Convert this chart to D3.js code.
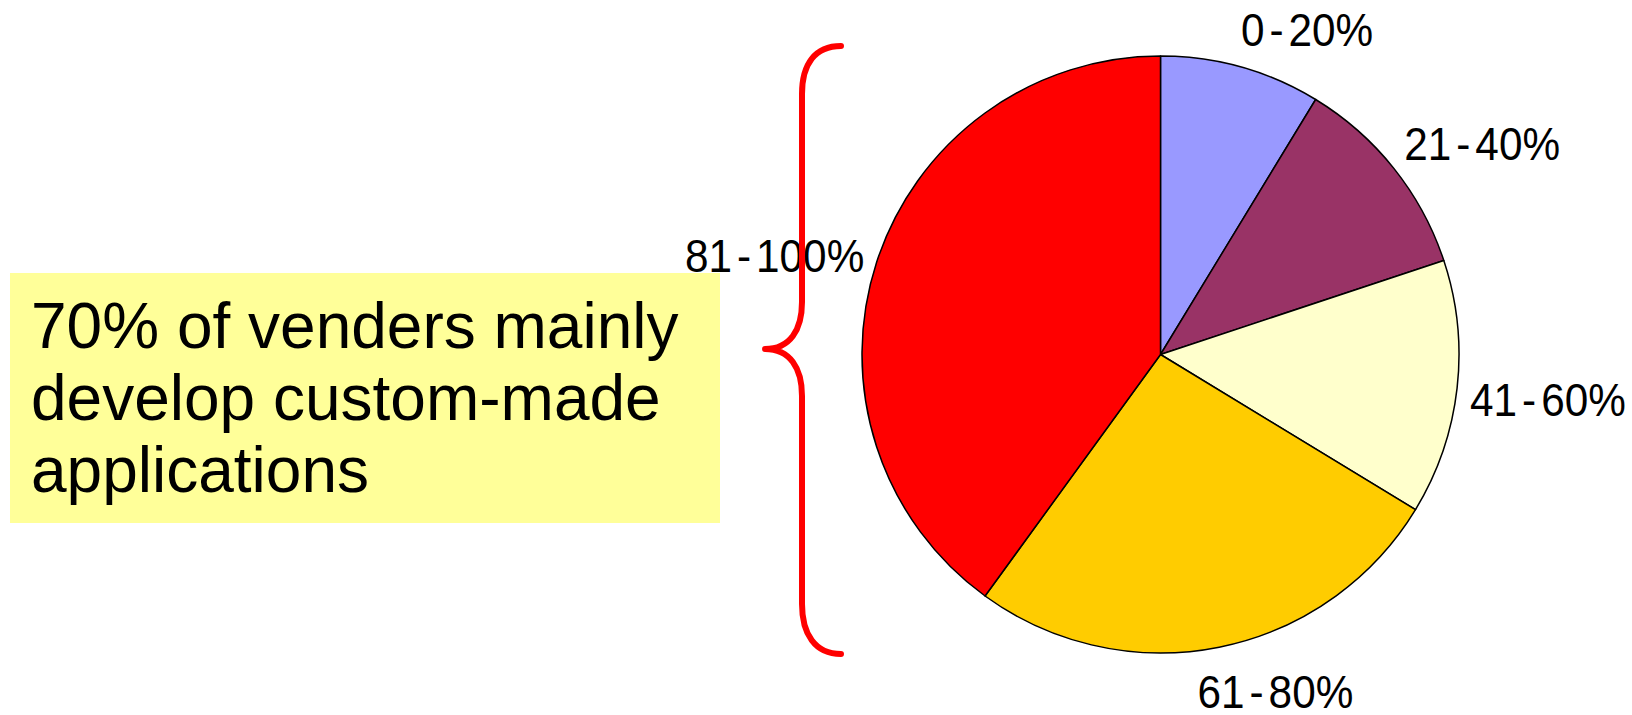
<!DOCTYPE html>
<html>
<head>
<meta charset="utf-8">
<script src="https://cdn.jsdelivr.net/npm/d3@7"></script>
<style>
  html, body { margin: 0; padding: 0; background: #ffffff; }
  svg { display: block; }
  text { font-family: "Liberation Sans", Arial, sans-serif; fill: #000; }
</style>
</head>
<body>
<svg id="chart" width="1632" height="715"></svg>
<script>
// ---- data ----
const categories = ["0-20%", "21-40%", "41-60%", "61-80%", "81-100%"];
const shares = [8.7, 11.2, 13.8, 26.3, 40.0];
const sliceColors = ["#9999FF", "#993366", "#FFFFCC", "#FFCC00", "#FF0000"];
const noteLines = ["70% of venders mainly", "develop custom-made", "applications"];
const labelNudgeY = [0, 8, 0, 6, 22];

// ---- layout ----
const W = 1632, H = 715;
const cx = 1160.5, cy = 354.5, R = 298.5;
const labelGap = 13, labelFont = 47, labelScaleX = 0.9, labelBoxH = 50, hyphenPad = 5;

const svg = d3.select("#chart");

// Note box
const note = svg.append("g");
note.append("rect")
  .attr("x", 10).attr("y", 273).attr("width", 710).attr("height", 250)
  .attr("fill", "#FFFF99");
note.selectAll("text").data(noteLines).join("text")
  .attr("x", 31)
  .attr("y", (d, i) => 348 + i * 72)
  .attr("font-size", 64)
  .text(d => d);

// Pie
const pie = d3.pie().sort(null).value(d => d.v);
const arcs = pie(categories.map((c, i) => ({ c, v: shares[i] })));
const arc = d3.arc().innerRadius(0).outerRadius(R);
const color = d3.scaleOrdinal().domain(categories).range(sliceColors);

const g = svg.append("g").attr("transform", `translate(${cx},${cy})`);
g.selectAll("path").data(arcs).join("path")
  .attr("d", arc)
  .attr("fill", d => color(d.data.c))
  .attr("stroke", "#000")
  .attr("stroke-width", 1.5)
  .attr("stroke-linejoin", "round");

// Labels (outside end: nearest box corner sits on the mid-angle ray)
const clamp = v => Math.max(-1, Math.min(1, v));
const labels = g.selectAll("text.lbl").data(arcs).join("text")
  .attr("class", "lbl")
  .attr("font-size", labelFont)
  .attr("text-anchor", "middle");
labels.each(function (d) {
  const parts = d.data.c.split("-");
  const t = d3.select(this);
  t.append("tspan").text(parts[0]);
  t.append("tspan").attr("dx", hyphenPad / labelScaleX).text("-");
  t.append("tspan").attr("dx", hyphenPad / labelScaleX).text(parts[1]);
});
labels.each(function (d, i) {
  const w = this.getComputedTextLength() * labelScaleX + 2 * hyphenPad;
  const a = (d.startAngle + d.endAngle) / 2;
  const s = Math.sin(a), c = -Math.cos(a);
  const px = (R + labelGap) * s, py = (R + labelGap) * c;
  const mx = px + clamp(s * 3.5) * w / 2;
  const my = py + clamp(c * 3.5) * labelBoxH / 2 + labelNudgeY[i];
  d3.select(this).attr("transform",
    `translate(${mx},${my + 0.716 * labelFont / 2}) scale(${labelScaleX},1)`);
});

// Red brace
const p = d3.path();
p.moveTo(841, 46);
p.bezierCurveTo(815, 46, 802, 64, 802, 94);
p.lineTo(802, 302);
p.bezierCurveTo(802, 330, 790, 349, 765, 349);
p.bezierCurveTo(790, 349, 802, 368, 802, 396);
p.lineTo(802, 604);
p.bezierCurveTo(802, 634, 815, 654, 841, 654);
svg.append("path")
  .attr("d", p.toString())
  .attr("fill", "none")
  .attr("stroke", "#FF0000")
  .attr("stroke-width", 6)
  .attr("stroke-linecap", "round")
  .attr("stroke-linejoin", "round");
</script>
</body>
</html>
